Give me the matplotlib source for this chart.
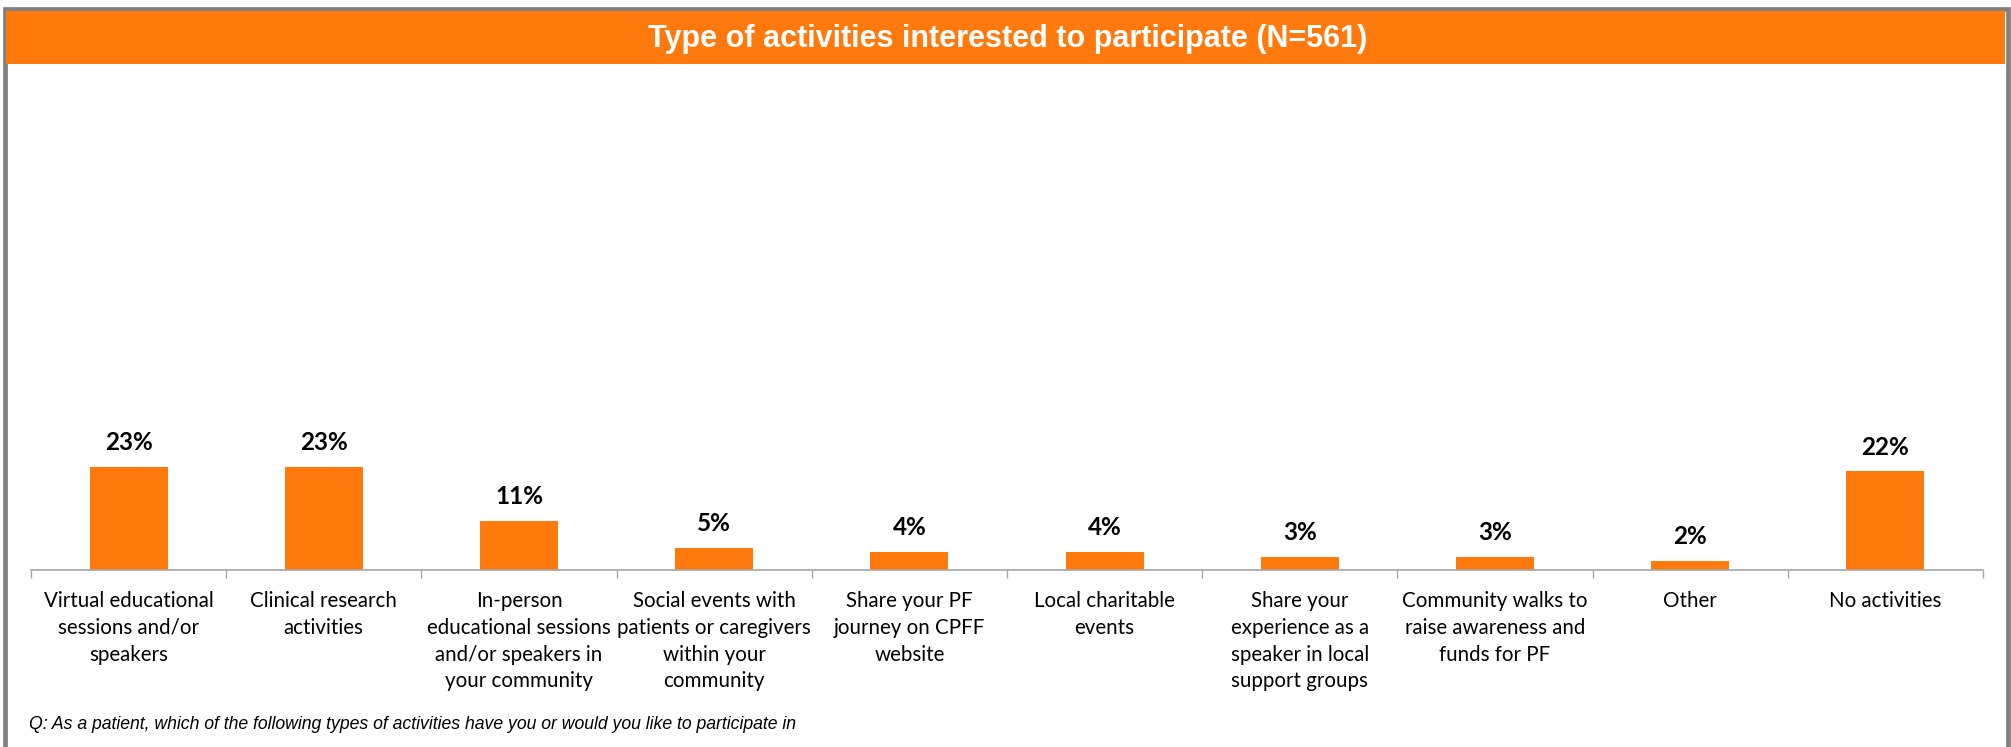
import matplotlib
matplotlib.use("Agg")
import matplotlib.pyplot as plt
from matplotlib.patches import Rectangle

# Survey results
categories = [
    "Virtual educational\nsessions and/or\nspeakers",
    "Clinical research\nactivities",
    "In-person\neducational sessions\nand/or speakers in\nyour community",
    "Social events with\npatients or caregivers\nwithin your\ncommunity",
    "Share your PF\njourney on CPFF\nwebsite",
    "Local charitable\nevents",
    "Share your\nexperience as a\nspeaker in local\nsupport groups",
    "Community walks to\nraise awareness and\nfunds for PF",
    "Other",
    "No activities",
]
percent = [23, 23, 11, 5, 4, 4, 3, 3, 2, 22]

title = "Type of activities interested to participate (N=561)"
footnote = ("Q: As a patient, which of the following types of activities "
            "have you or would you like to participate in")

ORANGE = "#FF790C"
BORDER = "#808080"
AXIS = "#A6A6A6"

W, H = 2011, 747
fig = plt.figure(figsize=(W / 100, H / 100), dpi=100)


def fy(y):
    # pixel row from the top -> figure fraction
    return 1 - y / H


# grey frame round the whole slide (bottom edge runs off the figure)
fig.patches.append(Rectangle((4.5 / W, fy(820)), (2008 - 4.5) / W, (820 - 8.5) / H,
                             transform=fig.transFigure, fill=False,
                             edgecolor=BORDER, linewidth=3.4))

# orange title banner
fig.patches.append(Rectangle((6 / W, fy(64)), (2005 - 6) / W, 53 / H,
                             transform=fig.transFigure, facecolor=ORANGE,
                             edgecolor="none"))
fig.text(1008 / W, fy(38.5), title, ha="center", va="center", color="white",
         fontsize=22, fontweight="bold", family="Liberation Sans")

ax = fig.add_axes([31 / W, fy(570), 1952 / W, 448 / H])
x = range(len(categories))
ax.bar(x, percent, width=0.4, color=ORANGE, zorder=2)

ax.set_xlim(-0.5, len(categories) - 0.5)
ax.set_ylim(0, 100)
for side in ["left", "right", "top"]:
    ax.spines[side].set_visible(False)
ax.spines["bottom"].set_color(AXIS)
ax.spines["bottom"].set_linewidth(1.2)
ax.set_yticks([])

# labels at category centres, tick marks on the boundaries
ax.set_xticks(list(x))
ax.set_xticklabels(categories, fontsize=14.8, family="Lato", linespacing=1.43)
ax.tick_params(axis="x", which="major", length=0, pad=15)
ax.set_xticks([i - 0.5 for i in range(len(categories) + 1)], minor=True)
ax.tick_params(axis="x", which="minor", length=6, width=1, color=AXIS)

for i, v in enumerate(percent):
    ax.annotate(f"{v}%", (i, v), xytext=(0, 12), textcoords="offset points",
                ha="center", va="baseline", fontsize=17.5, fontweight="bold",
                family="Lato")

fig.text(29 / W, fy(729), footnote, ha="left", va="baseline", fontsize=12.7,
         style="italic", family="Liberation Sans")

fig.savefig("out.png", dpi=100, facecolor="white")
